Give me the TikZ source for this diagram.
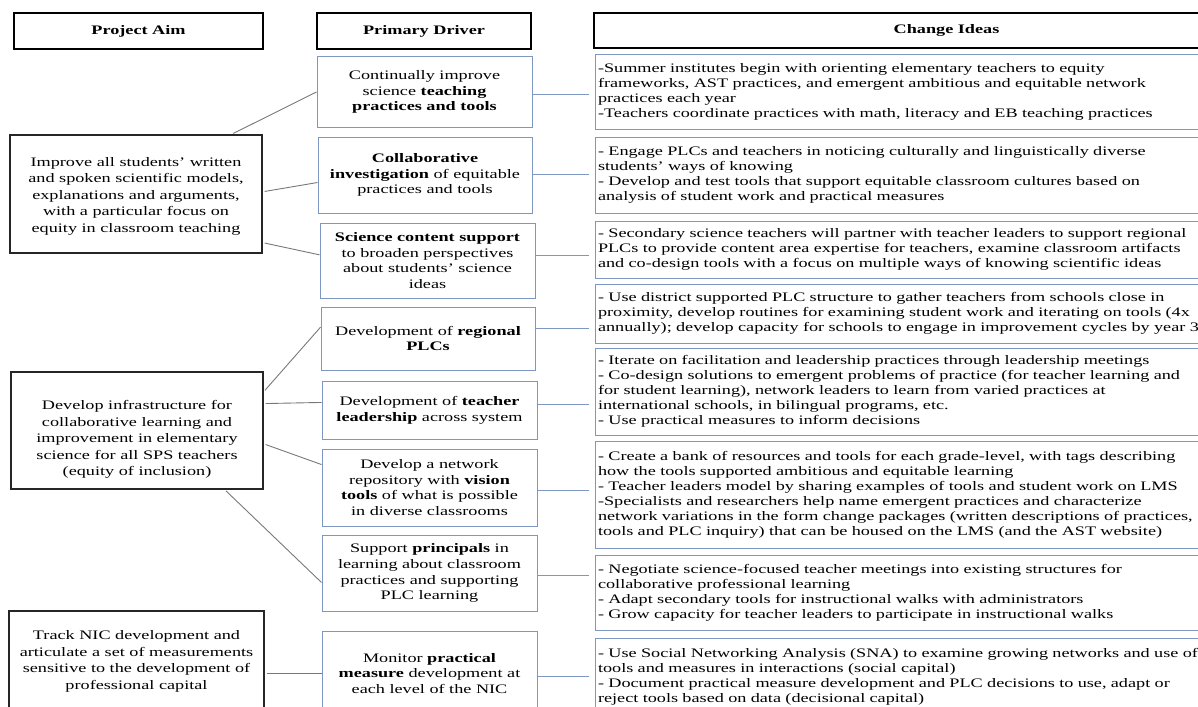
\documentclass[tikz,border=0pt]{standalone}
\usepackage{fontspec}
\setmainfont{Liberation Serif}[FakeStretch=1.40]
\definecolor{boxblue}{RGB}{126,150,194}
\definecolor{linegray}{RGB}{120,120,120}
\begin{document}
\begin{tikzpicture}[x=1pt, y=-1pt,
    head/.style={draw=black, line width=2.4pt, font=\fontsize{13}{15}\selectfont\bfseries, inner sep=0pt},
    aim/.style={draw=black!85, line width=1.3pt, align=center, font=\fontsize{13}{16.5}\selectfont, inner sep=2pt},
    driver/.style={draw=boxblue, line width=1pt, align=center, font=\fontsize{13}{15.8}\selectfont, inner sep=2pt},
    idea/.style={draw=boxblue, line width=1pt, align=left, text width=698pt, font=\fontsize{13}{15}\selectfont, inner xsep=3pt, inner ysep=2pt},
    aimline/.style={draw=linegray, line width=0.9pt, shorten <=2pt},
    idealine/.style={draw=boxblue, line width=1pt, shorten >=6pt}]
    \useasboundingbox (0,0) rectangle (1198,706);
    \clip (0,0) rectangle (1198,706);
    % column heads
    \node[head, minimum width=249pt, minimum height=36pt] (hdAim) at (138.5,31) {Project Aim};
    \node[head, minimum width=214pt, minimum height=36pt] (hdDrv) at (424,31) {Primary Driver};
    \node[head, minimum width=705pt, minimum height=35pt] (hdChg) at (946.5,30.5) {Change Ideas};
    % project aims
    \node[aim, minimum width=252pt, minimum height=118pt] (aimA) at (136,194) {\rule{0pt}{13pt}Improve all students’ written\\ and spoken scientific models,\\ explanations and arguments,\\ with a particular focus on\\ equity in classroom teaching};
    \node[aim, minimum width=252pt, minimum height=117pt] (aimB) at (137,430.5) {\rule{0pt}{27pt}Develop infrastructure for\\ collaborative learning and\\ improvement in elementary\\ science for all SPS teachers\\ (equity of inclusion)};
    \node[aim, minimum width=255pt, minimum height=101pt] (aimC) at (136.5,661.5) {Track NIC development and\\ articulate a set of measurements\\ sensitive to the development of\\ professional capital};
    % primary drivers
    \node[driver, minimum width=215pt, minimum height=70pt] (drvA) at (424.5,92) {Continually improve\\ science \textbf{teaching}\\ \textbf{practices and tools}};
    \node[driver, minimum width=214pt, minimum height=76pt] (drvB) at (425,175) {\textbf{Collaborative}\\ \textbf{investigation} of equitable\\ practices and tools};
    \node[driver, minimum width=215pt, minimum height=75pt] (drvC) at (427.5,260.5) {\textbf{Science content support}\\ to broaden perspectives\\ about students’ science\\ ideas};
    \node[driver, minimum width=214pt, minimum height=63pt] (drvD) at (428,338.5) {Development of \textbf{regional}\\ \textbf{PLCs}};
    \node[driver, minimum width=215pt, minimum height=58pt] (drvE) at (429.5,410) {Development of \textbf{teacher}\\ \textbf{leadership} across system};
    \node[driver, minimum width=215pt, minimum height=77pt] (drvF) at (429.5,487.5) {Develop a network\\ repository with \textbf{vision}\\ \textbf{tools} of what is possible\\ in diverse classrooms};
    \node[driver, minimum width=215pt, minimum height=76pt] (drvG) at (429.5,573) {Support \textbf{principals} in\\ learning about classroom\\ practices and supporting\\ PLC learning};
    \node[driver, minimum width=215pt, minimum height=85pt] (drvH) at (429.5,673.5) {Monitor \textbf{practical}\\ \textbf{measure} development at\\ each level of the NIC};
    % change ideas
    \node[idea, minimum height=74pt] (chgA) at (947,92) {-Summer institutes begin with orienting elementary teachers to equity\\ frameworks, AST practices, and emergent ambitious and equitable network\\ practices each year\\ -Teachers coordinate practices with math, literacy and EB teaching practices};
    \node[idea, minimum height=76pt] (chgB) at (947,175) {- Engage PLCs and teachers in noticing culturally and linguistically diverse\\ students’ ways of knowing\\ - Develop and test tools that support equitable classroom cultures based on\\ analysis of student work and practical measures};
    \node[idea, minimum height=57pt] (chgC) at (947,249.5) {- Secondary science teachers will partner with teacher leaders to support regional\\ PLCs to provide content area expertise for teachers, examine classroom artifacts\\ and co-design tools with a focus on multiple ways of knowing scientific ideas};
    \node[idea, minimum height=59pt] (chgD) at (947,313.5) {- Use district supported PLC structure to gather teachers from schools close in\\ proximity, develop routines for examining student work and iterating on tools (4x\\ annually); develop capacity for schools to engage in improvement cycles by year 3};
    \node[idea, minimum height=87pt] (chgE) at (947,391.5) {- Iterate on facilitation and leadership practices through leadership meetings\\ - Co-design solutions to emergent problems of practice (for teacher learning and\\ for student learning), network leaders to learn from varied practices at\\ international schools, in bilingual programs, etc.\\ - Use practical measures to inform decisions};
    \node[idea, minimum height=107pt] (chgF) at (947,494.5) {- Create a bank of resources and tools for each grade-level, with tags describing\\ how the tools supported ambitious and equitable learning\\ - Teacher leaders model by sharing examples of tools and student work on LMS\\ -Specialists and researchers help name emergent practices and characterize\\ network variations in the form change packages (written descriptions of practices,\\ tools and PLC inquiry) that can be housed on the LMS (and the AST website)};
    \node[idea, minimum height=75pt] (chgG) at (947,592.5) {- Negotiate science-focused teacher meetings into existing structures for\\ collaborative professional learning\\ - Adapt secondary tools for instructional walks with administrators\\ - Grow capacity for teacher leaders to participate in instructional walks};
    \node[idea, minimum height=77pt] (chgH) at (947,676.5) {- Use Social Networking Analysis (SNA) to examine growing networks and use of\\ tools and measures in interactions (social capital)\\ - Document practical measure development and PLC decisions to use, adapt or\\ reject tools based on data (decisional capital)};
    % aims to drivers
    \draw[aimline] (aimA.32) -- (drvA.west);
    \draw[aimline] (aimA.1.5) -- (drvB.184);
    \draw[aimline] (aimA.-21) -- (drvC.177);
    \draw[aimline] (aimB.17) -- (drvD.174);
    \draw[aimline] (aimB.12) -- (drvE.176);
    \draw[aimline] (aimB.-6) -- (drvF.168);
    \draw[aimline] (aimB.-34.5) -- (drvG.185);
    \draw[aimline] (drvH.west -| aimC.east) -- (drvH.west);
    % drivers to change ideas
    \draw[idealine] ([yshift=-3pt]drvA.east) -- ([yshift=-3pt]drvA.east -| chgA.west);
    \draw[idealine] ([yshift=1pt]drvB.east) -- ([yshift=1pt]drvB.east -| chgB.west);
    \draw[idealine] ([yshift=5.5pt]drvC.east) -- ([yshift=5.5pt]drvC.east -| chgC.west);
    \draw[idealine] ([yshift=10.5pt]drvD.east) -- ([yshift=10.5pt]drvD.east -| chgD.west);
    \draw[idealine] ([yshift=6pt]drvE.east) -- ([yshift=6pt]drvE.east -| chgE.west);
    \draw[idealine] ([yshift=-2.5pt]drvF.east) -- ([yshift=-2.5pt]drvF.east -| chgF.west);
    \draw[idealine] ([yshift=-2pt]drvG.east) -- ([yshift=-2pt]drvG.east -| chgG.west);
    \draw[idealine] ([yshift=-2.5pt]drvH.east) -- ([yshift=-2.5pt]drvH.east -| chgH.west);
\end{tikzpicture}
\end{document}
